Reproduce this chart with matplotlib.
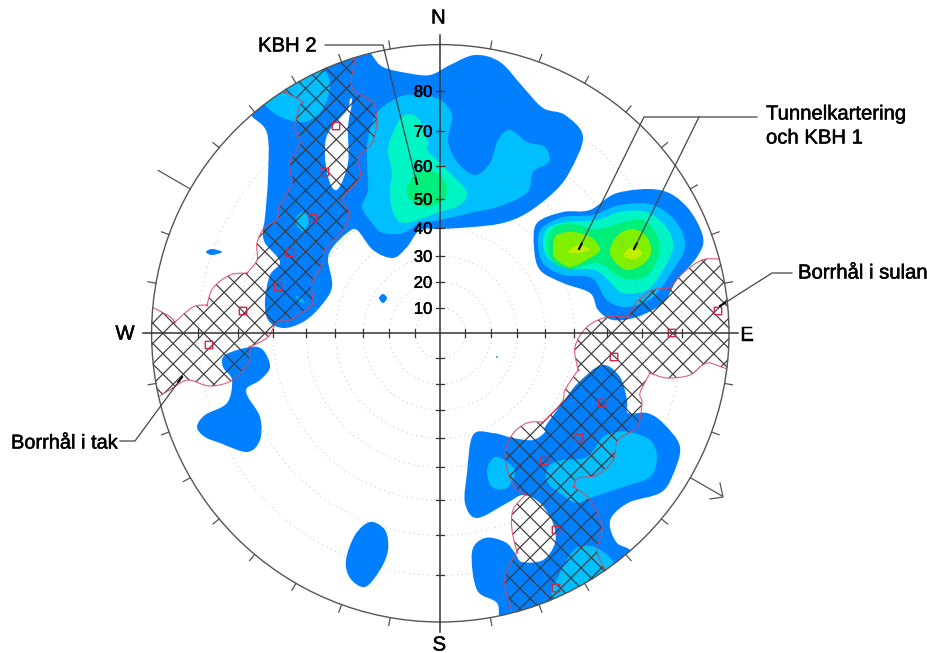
import numpy as np
import matplotlib
matplotlib.use('Agg')
import matplotlib.pyplot as plt
from matplotlib.path import Path
from matplotlib.patches import PathPatch, Circle, Rectangle
import matplotlib.patheffects as pe

plt.rcParams['font.family'] = ['Liberation Sans', 'DejaVu Sans']

# net geometry, picture coordinates
cx, cy, R = 440.3, 333.3, 288.7

dips = [10, 20, 30, 40, 50, 60, 70, 80]
dip_radius = [25, 51, 77, 105, 134, 167, 202, 242]

# contour outlines
north_1 = [(372,55),(383,67),(407,73),(430,75),(450,65),(475,55),(500,62),(523,87),(543,108),(565,115),
           (583,137),(569,173),(553,193),(527,213),(503,223),(473,227),(440,229),(420,230),(407,247),(393,258),
           (373,250),(357,230),(347,233),(333,247),(328,260),(332,287),(320,307),(303,322),(283,328),(268,320),
           (265,300),(270,275),(280,262),(265,243),(263,230),(265,217),(268,177),(267,133),(250,114),(240,90),
           (300,40),(360,35)]
north_2 = [(407,95),(437,98),(452,115),(448,140),(457,162),(475,175),(490,163),(498,140),(510,130),(527,142),
           (545,147),(549,162),(533,172),(527,193),(497,207),(470,213),(440,220),(420,223),(403,233),(383,233),
           (372,223),(362,207),(368,190),(367,163),(368,137),(377,113),(390,102)]
north_3 = [(403,116),(418,118),(428,143),(427,150),(440,163),(457,180),(467,193),(460,205),(440,212),(405,223),
           (393,212),(390,190),(392,173),(388,150),(393,133)]
north_4 = [(407,187),(417,173),(437,173),(447,187),(443,200),(427,207),(410,200)]
north_5 = [(428,181),(432,190),(430,196),(426,190)]
north_hole = [(350,99),(347,110),(328,133),(325,157),(330,183),(338,189),(348,163),(348,127),(352,102)]
corner_2 = [(267,100),(267,107),(283,118),(305,122),(322,110),(330,87),(323,70),(300,72)]
spot_a = [(303,212),(309,220),(304,231),(297,226),(296,218)]
spot_b = [(296,296),(302,299),(305,303),(299,301)]

east_1 = [(537,223),(563,212),(590,210),(617,193),(660,190),(687,207),(703,237),(697,257),(677,280),(663,303),
          (637,317),(613,320),(598,310),(590,293),(563,283),(540,270),(534,247)]
east_2 = [(542,228),(563,217),(593,215),(620,205),(653,205),(677,223),(685,247),(673,270),(653,297),(627,307),
          (607,300),(592,278),(563,275),(543,263),(538,243)]
east_3 = [(548,228),(567,222),(597,220),(620,212),(647,212),(667,228),(673,248),(663,270),(647,290),(623,293),
          (608,280),(595,270),(567,268),(548,258),(543,243)]
east_4 = [(553,229),(570,223),(597,229),(627,221),(645,221),(658,238),(658,258),(645,277),(623,278),(603,265),
          (593,263),(570,269),(553,262),(547,245)]
east_5a = [(555,237),(562,233),(575,232),(592,238),(600,250),(590,258),(570,267),(555,258),(553,248)]
east_5b = [(610,250),(618,235),(633,229),(647,237),(651,253),(642,265),(627,270),(615,262)]
east_6a = [(568,252),(578,245),(590,250),(577,253)]
east_6b = [(624,253),(633,247),(642,253),(635,259),(627,258)]

se_1 = [(602,365),(620,377),(627,400),(628,413),(647,413),(663,423),(680,447),(672,477),(660,493),(630,502),
        (613,515),(610,527),(617,543),(632,552),(645,580),(560,640),(505,625),(497,603),(477,590),(472,552),
        (485,538),(505,542),(515,553),(522,562),(543,560),(555,543),(553,523),(540,503),(523,495),(507,503),
        (477,518),(465,503),(467,473),(473,435),(493,433),(513,438),(533,440),(545,432),(545,427),(563,402),(578,383)]
se_2 = [(630,432),(650,440),(657,457),(650,477),(623,487),(590,498),(577,503),(565,497),(548,483),(548,467),
        (563,460),(587,457),(603,437),(617,432)]
se_2b = [(498,457),(515,470),(507,488),(492,487),(487,473),(490,462)]
se_2c = [(583,546),(597,548),(613,562),(615,585),(590,610),(553,597),(560,573),(572,552)]

west_1 = [(225,355),(250,347),(263,350),(270,367),(260,380),(247,388),(248,397),(260,417),(260,440),(247,452),
          (220,443),(205,437),(197,427),(205,415),(227,403),(232,380),(223,367)]
south_1 = [(370,522),(385,530),(388,550),(380,570),(365,587),(350,578),(346,560),(355,535)]
fleck_1 = [(206,252),(212,249),(222,252),(212,255)]
fleck_2 = [(383,294),(387,298),(383,303),(379,298)]
fleck_3 = [(497,356),(498,357),(497,358),(496,357)]

# hatched sectors, doubled points are the cusps of the scallops
hatch_west = [(285,92),(285,92),(303,102),(300,105),(295,127),(300,143),(290,163),(292,183),(287,193),(278,210),
              (278,220),(265,227),(257,243),(257,260),(247,273),(247,273),(230,275),(213,288),(207,305),(207,305),
              (193,307),(175,322),(175,322),(167,315),(145,308),(135,340),(148,405),(158,397),(173,388),(173,388),
              (188,380),(210,386),(233,380),(248,363),(250,347),(250,347),(268,337),(277,322),(290,320),(310,307),
              (313,300),(312,283),(323,263),(325,250),(343,230),(349,213),(343,198),(360,177),(358,158),(372,143),
              (377,120),(372,102),(352,87),(355,58),(355,35),(285,70)]
hatch_east = [(720,259),(702,260),(683,273),(670,288),(670,288),(653,290),(637,302),(628,317),(628,317),(607,317),
              (587,327),(575,347),(578,370),(578,370),(565,390),(562,402),(543,422),(543,422),(527,423),(512,435),
              (505,457),(513,485),(525,495),(525,495),(513,510),(512,530),(517,552),(517,552),(507,570),(505,587),
              (512,613),(512,640),(620,600),(605,570),(605,570),(597,550),(602,527),(590,500),(574,487),(574,487),
              (578,478),(597,475),(613,460),(618,440),(637,427),(642,403),(640,393),(650,373),(650,373),(667,378),
              (690,375),(707,363),(740,362),(740,259)]

bore_x = [336,325,313,290,278,243,209,718,672,614,602,579,544,556,556]
bore_y = [126,172,218,253,287,311,345,311,333,357,403,438,461,530,588]

colors = {1:'#0080ff', 2:'#00bfff', 3:'#00f5c5', 4:'#00ee7a', 5:'#80f000', 6:'#c0f000'}
layers = [(north_1,1),(se_1,1),(east_1,1),(west_1,1),(south_1,1),(fleck_1,1),(fleck_2,1),(fleck_3,1),
          (north_2,2),(corner_2,2),(spot_a,2),(spot_b,2),(se_2,2),(se_2b,2),(se_2c,2),(east_2,2),
          (north_3,3),(east_3,3),(north_4,4),(east_4,4),(north_5,4),(east_5a,5),(east_5b,5),(east_6a,6),(east_6b,6)]


def smooth(pts):
    # closed catmull-rom curve through the outline points
    pts = np.array(pts, dtype=float)
    n = len(pts)
    verts = [pts[0]]
    codes = [Path.MOVETO]
    for i in range(n):
        p0, p1, p2, p3 = pts[i - 1], pts[i], pts[(i + 1) % n], pts[(i + 2) % n]
        verts += [p1 + (p2 - p0) / 6, p2 - (p3 - p1) / 6, p2]
        codes += [Path.CURVE4] * 3
    return Path(verts, codes)


fig = plt.figure(figsize=(9.28, 6.53), dpi=100)
ax = fig.add_axes([0, 0, 1, 1])
ax.set_xlim(0, 928)
ax.set_ylim(653, 0)
ax.axis('off')

disc = Circle((cx, cy), R, transform=ax.transData, fc='none', ec='none')
ax.add_patch(disc)

for pts, level in layers:
    p = PathPatch(smooth(pts), fc=colors[level], ec='none', zorder=2)
    ax.add_patch(p)
    p.set_clip_path(disc)
ax.add_patch(PathPatch(smooth(north_hole), fc='white', ec='none', zorder=2.5))

# dotted small circles
t = np.linspace(0, 2 * np.pi, 400)
for r in dip_radius:
    ax.plot(cx + r * np.cos(t), cy + r * np.sin(t), color='#777777', lw=0.6,
            ls=(0, (0.8, 5)), alpha=0.7, zorder=3)

# hatching, lines cut at the rim and clipped to each sector
step = 20.4
phase = 8.2
for sector in (hatch_west, hatch_east):
    clip = PathPatch(smooth(sector), transform=ax.transData, fc='none', ec='none')
    ax.add_patch(clip)
    for sign in (1, -1):
        for k in range(-30, 31):
            off = (k * step + phase) / np.sqrt(2)
            half = np.sqrt(max(R * R - off * off, 0))
            xs = np.array([off - half, off + half]) / np.sqrt(2)
            ys = np.array([off + half, off - half]) / np.sqrt(2)
            ln, = ax.plot(cx + xs, cy + sign * ys, color='#3a3a3a', lw=0.85, zorder=4)
            ln.set_clip_path(clip)
    edge = PathPatch(smooth(sector), fc='none', ec='#e0405a', lw=0.8, alpha=0.85, zorder=5)
    ax.add_patch(edge)
    edge.set_clip_path(disc)

for x, y in zip(bore_x, bore_y):
    ax.add_patch(Rectangle((x - 3.7, y - 3.7), 7.4, 7.4, fc='none', ec='#d02848', lw=1.0, zorder=6, snap=False))

# rim, axes, ticks
ax.add_patch(Circle((cx, cy), R, fc='none', ec='#555555', lw=1.0, zorder=6))
ax.plot([143, 738], [cy, cy], color='#333333', lw=1.1, zorder=6)
ax.plot([cx, cx], [35, 632], color='#333333', lw=1.1, zorder=6)
for r in dip_radius:
    for s in (-1, 1):
        ax.plot([cx + s * r] * 2, [cy - 4, cy + 4], color='#333333', lw=0.9, zorder=6)
        ax.plot([cx - 4, cx + 4], [cy + s * r] * 2, color='#333333', lw=0.9, zorder=6)

for az in range(0, 360, 10):
    if az % 90 == 0:
        continue
    a = np.radians(az)
    length = 37 if az in (120, 300) else 8
    ax.plot([cx + R * np.sin(a), cx + (R + length) * np.sin(a)],
            [cy - R * np.cos(a), cy - (R + length) * np.cos(a)], color='#555555', lw=0.9, zorder=6)
ax.plot([720, 723, 710], [483, 497, 499], color='#555555', lw=0.9, zorder=6)

# slightly heavier text, the scan looks bolder than the plain face
heavy = dict(zorder=7, va='center', path_effects=[pe.withStroke(linewidth=0.35, foreground='black')])

# dip labels
for d, r in zip(dips, dip_radius):
    ax.text(cx - 8, cy - r + 1, str(d), ha='right', fontsize=12, **heavy)

# compass letters
ax.text(cx - 2, 18, 'N', ha='center', fontsize=14.6, **heavy)
ax.text(cx - 1, 645, 'S', ha='center', fontsize=14.6, **heavy)
ax.text(125, 334, 'W', ha='center', fontsize=14.6, **heavy)
ax.text(747, 335, 'E', ha='center', fontsize=14.6, **heavy)


def leader(xs, ys):
    # thin line ending in a short heavy tip
    ax.plot(xs, ys, color='#444444', lw=0.9, zorder=7)
    dx, dy = xs[-1] - xs[-2], ys[-1] - ys[-2]
    n = np.hypot(dx, dy)
    ax.plot([xs[-1] - 6 * dx / n, xs[-1]], [ys[-1] - 6 * dy / n, ys[-1]], color='black', lw=1.5, zorder=7)


# callouts
ax.text(258, 46, 'KBH 2', ha='left', fontsize=14.6, **heavy)
leader([325, 383, 417], [45, 45, 184])
ax.text(766, 114, 'Tunnelkartering', ha='left', fontsize=14.6, **heavy)
ax.text(766, 138, 'och KBH 1', ha='left', fontsize=14.6, **heavy)
leader([757, 644, 579], [117, 117, 249])
leader([699, 634], [117, 249])
ax.text(798, 273, 'Borrhål i sulan', ha='left', fontsize=14.6, **heavy)
leader([792, 772, 720], [273, 273, 306])
ax.text(11, 443, 'Borrhål i tak', ha='left', fontsize=14.4, **heavy)
leader([120, 135, 182], [441, 441, 377])

fig.savefig('out.png', dpi=100)
